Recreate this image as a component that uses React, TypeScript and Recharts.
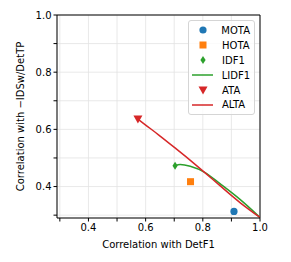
import {
  ComposedChart,
  CartesianGrid,
  Legend,
  Line,
  ReferenceLine,
  Scatter,
  XAxis,
  YAxis
} from "recharts";

// single-point metrics
const motaPoint = [{ x: 0.909, y: 0.313 }];
const hotaPoint = [{ x: 0.757, y: 0.417 }];
const idf1Point = [{ x: 0.703, y: 0.473 }];
const ataPoint = [{ x: 0.573, y: 0.636 }];

// curves
const lidf1X = [0.703, 0.721, 0.756, 0.808, 0.86, 0.93, 1.0];
const lidf1Y = [0.473, 0.477, 0.471, 0.449, 0.41, 0.355, 0.292];
const altaX = [0.573, 0.599, 0.645, 0.703, 0.75, 0.808, 0.86, 0.93, 1.0];
const altaY = [0.636, 0.616, 0.581, 0.535, 0.497, 0.448, 0.403, 0.344, 0.292];

const ticks = [0.3, 0.4, 0.5, 0.6, 0.7, 0.8, 0.9, 1.0];
const majorTicks = [0.4, 0.6, 0.8, 1.0];

const BLUE = "#1f77b4";
const ORANGE = "#ff7f0e";
const GREEN = "#2ca02c";
const RED = "#d62728";
const FONT = "'DejaVu Sans', sans-serif";

const lidf1 = lidf1X.map((x, i) => ({ x, y: lidf1Y[i] }));
const alta = altaX.map((x, i) => ({ x, y: altaY[i] }));

const fmt = (v: number) =>
  majorTicks.some((t) => Math.abs(t - v) < 1e-6) ? v.toFixed(1) : "";

const DownTriangle = (props: any) => {
  const { cx, cy } = props;
  return <path d={`M${cx - 4.5},${cy - 3.5} L${cx + 4.5},${cy - 3.5} L${cx},${cy + 4.5} Z`} fill={RED} />;
};

const ThinDiamond = (props: any) => {
  const { cx, cy } = props;
  return <path d={`M${cx},${cy - 4} L${cx + 2.6},${cy} L${cx},${cy + 4} L${cx - 2.6},${cy} Z`} fill={GREEN} />;
};

const Square = (props: any) => {
  const { cx, cy } = props;
  return <rect x={cx - 3.5} y={cy - 3.5} width={7} height={7} fill={ORANGE} />;
};

const Dot = (props: any) => {
  const { cx, cy } = props;
  return <circle cx={cx} cy={cy} r={3.6} fill={BLUE} />;
};

const legendItems = [
  { label: "MOTA", kind: "circle", color: BLUE },
  { label: "HOTA", kind: "square", color: ORANGE },
  { label: "IDF1", kind: "diamond", color: GREEN },
  { label: "LIDF1", kind: "line", color: GREEN },
  { label: "ATA", kind: "tri", color: RED },
  { label: "ALTA", kind: "line", color: RED }
];

function LegendBox() {
  return (
    <div
      style={{
        border: "1px solid #d5d5d5",
        borderRadius: 3,
        background: "rgba(255,255,255,0.8)",
        padding: "2px 4px 2px 3px",
        fontFamily: FONT,
        fontSize: 10,
        color: "#000"
      }}
    >
      {legendItems.map((item) => (
        <div key={item.label} style={{ display: "flex", alignItems: "center", height: 14.9 }}>
          <svg width={22} height={12} style={{ marginRight: 8 }}>
            {item.kind === "circle" && <circle cx={11} cy={6} r={3.6} fill={item.color} />}
            {item.kind === "square" && <rect x={7.5} y={2.5} width={7} height={7} fill={item.color} />}
            {item.kind === "diamond" && (
              <path d="M11,2 L13.6,6 L11,10 L8.4,6 Z" fill={item.color} />
            )}
            {item.kind === "line" && <line x1={0} y1={6} x2={21} y2={6} stroke={item.color} strokeWidth={1.5} />}
            {item.kind === "tri" && <path d="M6.5,2.5 L15.5,2.5 L11,10.5 Z" fill={item.color} />}
          </svg>
          <span>{item.label}</span>
        </div>
      ))}
    </div>
  );
}

export default function App() {
  return (
    <div style={{ position: "absolute", left: 0, top: 0, background: "#fff" }}>
      <ComposedChart width={291} height={262} margin={{ top: 15, right: 31, bottom: 0, left: 0 }}>
        <CartesianGrid stroke="#e3e3e3" strokeWidth={0.8} />
        <XAxis
          type="number"
          dataKey="x"
          domain={[0.29, 1.0]}
          ticks={ticks}
          tickFormatter={fmt}
          allowDataOverflow
          height={44}
          stroke="#000"
          tickSize={3.5}
          tickMargin={2}
          tick={{ fontSize: 10, fill: "#000", fontFamily: FONT }}
          label={{
            value: "Correlation with DetF1",
            position: "insideBottom",
            offset: 14,
            style: { fontSize: 10, fill: "#000", fontFamily: FONT }
          }}
        />
        <YAxis
          type="number"
          dataKey="y"
          domain={[0.29, 1.0]}
          ticks={ticks}
          tickFormatter={fmt}
          allowDataOverflow
          width={57}
          stroke="#000"
          tickSize={3.5}
          tickMargin={2}
          tick={{ fontSize: 10, fill: "#000", fontFamily: FONT }}
          label={{
            value: "Correlation with −IDSw/DetTP",
            angle: -90,
            position: "insideLeft",
            offset: 20,
            style: { fontSize: 10, fill: "#000", fontFamily: FONT, textAnchor: "middle" }
          }}
        />
        <ReferenceLine y={1.0} stroke="#000" strokeWidth={1} />
        <ReferenceLine x={1.0} stroke="#000" strokeWidth={1} />
        <Scatter name="MOTA" data={motaPoint} shape={Dot} isAnimationActive={false} />
        <Scatter name="HOTA" data={hotaPoint} shape={Square} isAnimationActive={false} />
        <Scatter name="IDF1" data={idf1Point} shape={ThinDiamond} isAnimationActive={false} />
        <Line
          name="LIDF1"
          data={lidf1}
          dataKey="y"
          type="monotone"
          stroke={GREEN}
          strokeWidth={1.5}
          dot={false}
          isAnimationActive={false}
        />
        <Scatter name="ATA" data={ataPoint} shape={DownTriangle} isAnimationActive={false} />
        <Line
          name="ALTA"
          data={alta}
          dataKey="y"
          type="monotone"
          stroke={RED}
          strokeWidth={1.5}
          dot={false}
          isAnimationActive={false}
        />
        <Legend
          layout="horizontal"
          verticalAlign="middle"
          align="center"
          content={() => <LegendBox />}
          wrapperStyle={{ top: 20, left: 188, width: 67, right: "auto", bottom: "auto" }}
        />
      </ComposedChart>
    </div>
  );
}
